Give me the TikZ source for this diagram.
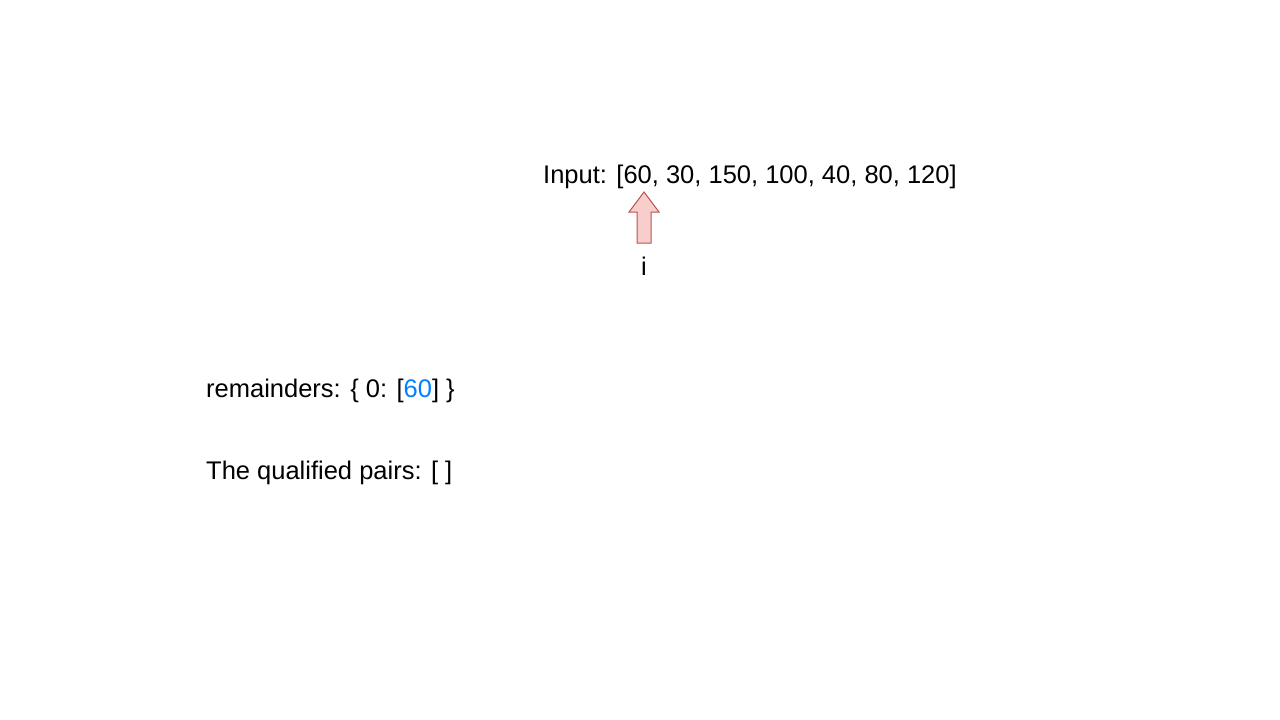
\documentclass[tikz,border=0pt]{standalone}
\usepackage{fontspec}
\setmainfont{Liberation Sans}
\definecolor{arrfill}{HTML}{F8CECC}
\definecolor{arrdraw}{HTML}{B85450}
\definecolor{hl}{HTML}{007FFF}
\begin{document}
\begin{tikzpicture}[x=1pt,y=-1pt,
  lbl/.style={inner sep=0pt,font=\fontsize{25.5}{30}\selectfont,text=black},
  ptr/.style={draw=arrdraw,fill=arrfill,line width=1pt,line join=miter}]
\useasboundingbox (0,0) rectangle (1280,720);
\node[lbl,anchor=base west] (input) at (543,183) {Input: [60, 30, 150, 100, 40, 80, 120]};
\draw[ptr] (637,243) -- (637,212) -- (629,212) -- (644,192) -- (659,212) -- (651,212) -- (651,243) -- cycle;
\coordinate (tip) at (644,192);
\node[lbl,anchor=base] (i) at (644,275) {i};
\node[lbl,anchor=base west] (rem) at (206,397) {remainders: \{ 0: [\textcolor{hl}{60}] \}};
\node[lbl,anchor=base west] (pairs) at (206,479) {The qualified pairs: [ ]};
\end{tikzpicture}
\end{document}
